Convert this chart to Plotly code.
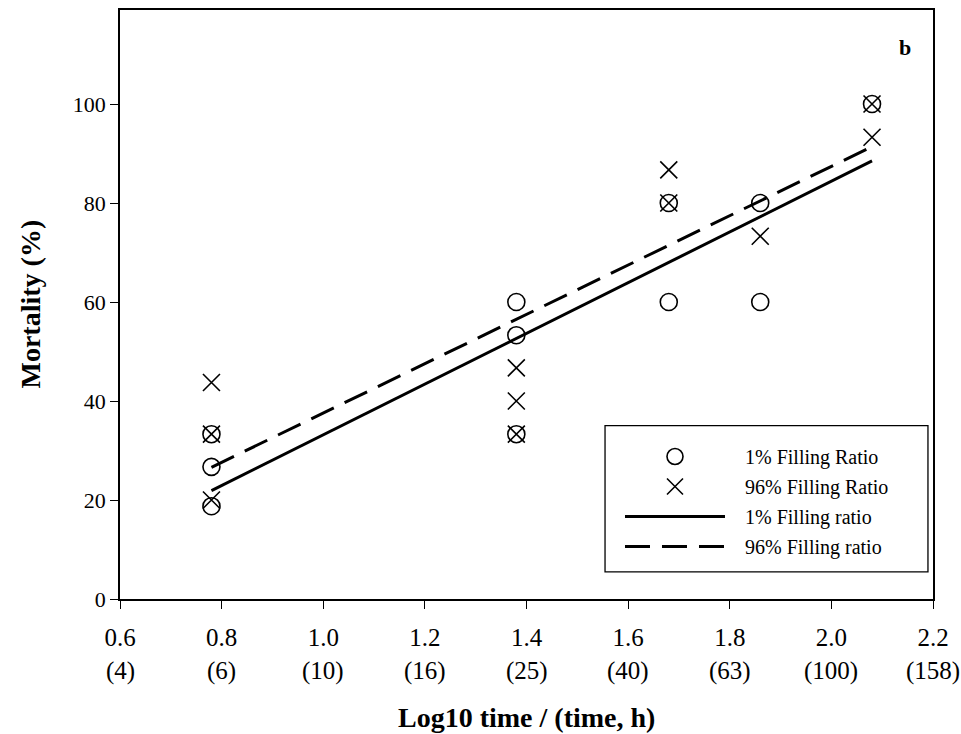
import plotly.graph_objects as go

# Mortality (%) against log10 exposure time for two filling ratios
log_time_1 = [0.78, 0.78, 0.78, 1.38, 1.38, 1.38, 1.68, 1.68, 1.86, 1.86, 2.08]
mortality_1 = [33.3, 26.7, 18.75, 60.0, 53.3, 33.3, 80.0, 60.0, 80.0, 60.0, 100.0]

log_time_96 = [0.78, 0.78, 0.78, 1.38, 1.38, 1.38, 1.68, 1.68, 1.86, 2.08, 2.08]
mortality_96 = [43.75, 33.3, 20.0, 46.7, 40.0, 33.3, 86.7, 80.0, 73.3, 100.0, 93.3]

# Regression lines (end points over the tested time span)
fit_x = [0.78, 2.08]
fit_1 = [21.9, 88.5]
fit_96 = [26.6, 91.4]

x_ticks = [0.6, 0.8, 1.0, 1.2, 1.4, 1.6, 1.8, 2.0, 2.2]
x_tick_text = ["0.6", "0.8", "1.0", "1.2", "1.4", "1.6", "1.8", "2.0", "2.2"]
hour_text = ["(4)", "(6)", "(10)", "(16)", "(25)", "(40)", "(63)", "(100)", "(158)"]
y_ticks = [0, 20, 40, 60, 80, 100]

FONT = "Liberation Serif"
BLACK = "#000000"
PAD = "\u00a0\u00a0\u00a0"  # gap between legend symbols and labels
X_TICK_SIZE = 25
Y_TICK_SIZE = 22

fig = go.Figure()

fig.add_trace(go.Scatter(
    x=log_time_1, y=mortality_1, mode="markers", name=PAD + "1% Filling Ratio",
    legendgroup="a",
    marker=dict(symbol="circle-open", size=17, color=BLACK, line=dict(width=1.6, color=BLACK)),
))
fig.add_trace(go.Scatter(
    x=log_time_96, y=mortality_96, mode="markers", name=PAD + "96% Filling Ratio",
    legendgroup="b",
    marker=dict(symbol="x-thin-open", size=17, color=BLACK, line=dict(width=1.6, color=BLACK)),
))
fig.add_trace(go.Scatter(
    x=fit_x, y=fit_1, mode="lines", name=PAD + "1% Filling ratio",
    legendgroup="c",
    line=dict(color=BLACK, width=3),
))
fig.add_trace(go.Scatter(
    x=fit_x, y=fit_96, mode="lines", name=PAD + "96% Filling ratio",
    legendgroup="d",
    line=dict(color=BLACK, width=3, dash="25px,12px"),
))

# Second row of x labels: time in hours
for xv, txt in zip(x_ticks, hour_text):
    fig.add_annotation(
        x=xv, y=0, xref="x", yref="paper", text=txt, showarrow=False,
        yanchor="middle", xanchor="center", yshift=-72,
        font=dict(family=FONT, size=X_TICK_SIZE, color=BLACK),
    )

# Axis titles
fig.add_annotation(
    x=0.5, y=0, xref="paper", yref="paper", text="<b>Log10 time / (time, h)</b>",
    showarrow=False, xanchor="center", yanchor="middle", yshift=-118,
    font=dict(family=FONT, size=28, color=BLACK),
)
fig.add_annotation(
    x=0, y=0.5, xref="paper", yref="paper", text="<b>Mortality (%)</b>",
    showarrow=False, textangle=-90, xanchor="center", yanchor="middle", xshift=-90,
    font=dict(family=FONT, size=28, color=BLACK),
)

# Panel letter
fig.add_annotation(
    x=0.9656, y=0.937, xref="paper", yref="paper", text="<b>b</b>",
    showarrow=False, xanchor="center", yanchor="middle",
    font=dict(family=FONT, size=22, color=BLACK),
)

# Legend frame
fig.add_shape(
    type="rect", xref="paper", yref="paper",
    x0=0.5966, x1=0.9938, y0=0.046, y1=0.2944,
    line=dict(color=BLACK, width=1.3), fillcolor="rgba(0,0,0,0)",
)

fig.update_layout(
    width=961, height=734,
    margin=dict(l=120, r=28, t=8, b=135),
    paper_bgcolor="white", plot_bgcolor="white",
    font=dict(family=FONT, size=Y_TICK_SIZE, color=BLACK),
    showlegend=True,
    legend=dict(
        x=0.615, y=0.275, xanchor="left", yanchor="top",
        bgcolor="rgba(0,0,0,0)", borderwidth=0,
        font=dict(family=FONT, size=20, color=BLACK),
        itemwidth=100, tracegroupgap=1,
    ),
    xaxis=dict(
        range=[0.6, 2.2], tickvals=x_ticks, ticktext=x_tick_text,
        ticks="outside", ticklen=8, tickwidth=1.3, tickcolor=BLACK,
        showline=True, linecolor=BLACK, linewidth=1.5, mirror=True,
        showgrid=False, zeroline=False, ticklabelstandoff=7,
        tickfont=dict(family=FONT, size=X_TICK_SIZE, color=BLACK),
    ),
    yaxis=dict(
        range=[0, 119], tickvals=y_ticks,
        ticks="outside", ticklen=8, tickwidth=1.3, tickcolor=BLACK,
        showline=True, linecolor=BLACK, linewidth=1.5, mirror=True,
        showgrid=False, zeroline=False,
        tickfont=dict(family=FONT, size=Y_TICK_SIZE, color=BLACK),
    ),
)

fig.write_html("out.html")
